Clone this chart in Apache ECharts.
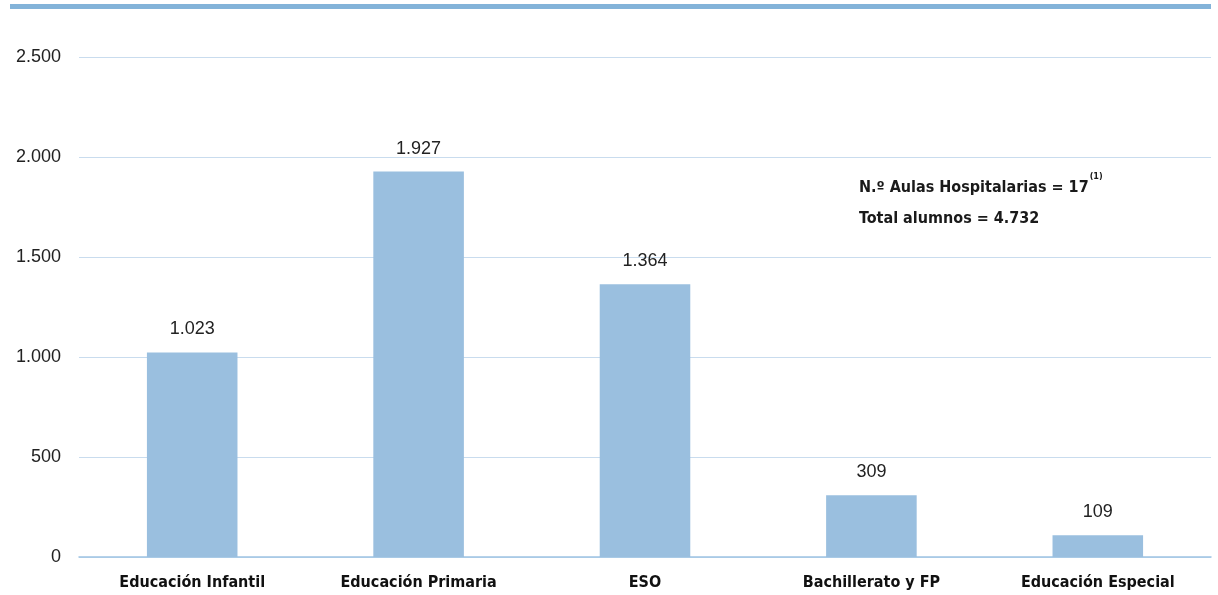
<!DOCTYPE html>
<html>
<head>
<meta charset="utf-8">
<script src="https://cdn.jsdelivr.net/npm/echarts@6/dist/echarts.min.js"></script>
<style>
  html, body { margin: 0; padding: 0; background: #fff; }
  #chart { width: 1218px; height: 595px; }
</style>
</head>
<body>
<div id="chart"></div>
<script>
// categorías y alumnos por etapa
var categorias = ['Educación Infantil', 'Educación Primaria', 'ESO', 'Bachillerato y FP', 'Educación Especial'];
var alumnos = [1023, 1927, 1364, 309, 109];
// eje y
var yMax = 2500;
var yPaso = 500;
// notas
var numAulas = 17;
var totalAlumnos = 4732;

var fuenteEstrecha = '"Liberation Sans Narrow", "DejaVu Sans Condensed", "Arial Narrow", "Liberation Sans", sans-serif';
var fuente = '"Liberation Sans", sans-serif';

function miles(v) {
    return String(v).replace(/\B(?=(\d{3})+(?!\d))/g, '.');
}

var option = {
    animation: false,
    textStyle: { fontFamily: fuenteEstrecha },
    grid: { left: 79, right: 7, top: 57, bottom: 38 },
    graphic: [
        { type: 'rect', shape: { x: 10, y: 4, width: 1201, height: 5 }, style: { fill: '#83b3d9' } },
        {
            type: 'text', left: 859, top: 172,
            style: {
                rich: {
                    b: { fontFamily: fuenteEstrecha, fontWeight: 'bold', fontSize: 16, fill: '#1a1a1a', lineHeight: 31 },
                    s: { fontFamily: fuenteEstrecha, fontWeight: 'bold', fontSize: 9, fill: '#1a1a1a', verticalAlign: 'top', lineHeight: 31, padding: [0, 0, 10, 1] }
                },
                text: '{b|N.º Aulas Hospitalarias = ' + numAulas + '}{s|(1)}\n{b|Total alumnos = ' + miles(totalAlumnos) + '}'
            }
        }
    ],
    xAxis: {
        type: 'category',
        data: categorias,
        axisLine: { lineStyle: { color: '#9fc3e3', width: 1.5 } },
        axisTick: { show: false },
        axisLabel: { color: '#111', fontFamily: fuenteEstrecha, fontWeight: 'bold', fontSize: 16, margin: 18, interval: 0 }
    },
    yAxis: {
        type: 'value',
        min: 0, max: yMax, interval: yPaso,
        axisLine: { show: false },
        axisTick: { show: false },
        splitLine: { lineStyle: { color: '#c9dcee' } },
        axisLabel: {
            color: '#222', fontFamily: fuente, fontSize: 18, margin: 18,
            formatter: function (v) { return miles(v); }
        }
    },
    series: [{
        type: 'bar',
        data: alumnos,
        barWidth: '40%',
        itemStyle: { color: '#9abfdf' },
        label: {
            show: true, position: 'top', distance: 14,
            color: '#222', fontFamily: fuente, fontSize: 18,
            formatter: function (p) { return miles(p.value); }
        }
    }]
};

var chart = echarts.init(document.getElementById('chart'));
chart.setOption(option);
</script>
</body>
</html>
